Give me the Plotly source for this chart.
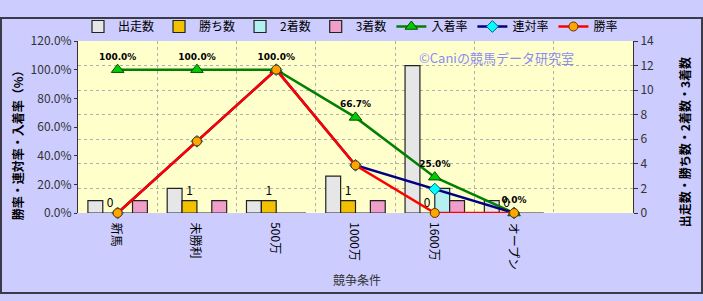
import plotly.graph_objects as go

categories = ["新馬", "未勝利", "500万", "1000万", "1600万", "オープン"]
starts = [1, 2, 1, 3, 12, 1]
wins = [0, 1, 1, 1, 0, 0]
seconds = [0, 0, 0, 0, 2, 0]
thirds = [1, 1, 0, 1, 1, 0]
place_rate = [1.0, 1.0, 1.0, 0.667, 0.25, 0.0]
quinella_rate = [0.0, 0.5, 1.0, 0.333, 0.167, 0.0]
win_rate = [0.0, 0.5, 1.0, 0.333, 0.0, 0.0]

FONT = "Noto Sans CJK JP"
xs = list(range(len(categories)))
n_slots = 7  # one empty slot at the right end

fig = go.Figure()

bar_specs = [
    ("出走数", starts, "#E6E6E6"),
    ("勝ち数", wins, "#F2C200"),
    ("2着数", seconds, "#B4F0F0"),
    ("3着数", thirds, "#F0A0C8"),
]
for name, vals, color in bar_specs:
    kw = {}
    if name == "勝ち数":
        kw = dict(text=[str(v) for v in vals], textposition="outside",
                  textfont=dict(size=12, color="#000", family=FONT),
                  cliponaxis=False)
    fig.add_trace(go.Bar(
        x=xs, y=vals, name=name, yaxis="y",
        marker=dict(color=color, line=dict(color="#222", width=1.2)),
        **kw))

fig.add_trace(go.Scatter(
    x=xs, y=place_rate, name="入着率", yaxis="y2",
    mode="lines+markers+text",
    line=dict(color="#008000", width=2.5),
    marker=dict(symbol="triangle-up", size=11, color="#00CC00",
                line=dict(color="#005000", width=1)),
    text=[f"<b>{v*100:.1f}%</b>" for v in place_rate],
    textposition="top center",
    textfont=dict(size=9, color="#000", family="DejaVu Sans"),
    cliponaxis=False))
fig.add_trace(go.Scatter(
    x=xs, y=quinella_rate, name="連対率", yaxis="y2",
    mode="lines+markers",
    line=dict(color="#000080", width=2.5),
    marker=dict(symbol="diamond", size=9, color="#00FFFF",
                line=dict(color="#006080", width=1)),
    cliponaxis=False))
fig.add_trace(go.Scatter(
    x=xs, y=win_rate, name="勝率", yaxis="y2",
    mode="lines+markers",
    line=dict(color="#FF0000", width=2.5),
    marker=dict(symbol="circle", size=9, color="#FFA500",
                line=dict(color="#603000", width=1)),
    cliponaxis=False))

W, H = 703, 301
L, R, T, B = 78, 70, 26, 88
pw, ph = W - L - R, H - T - B


def px_x(p):
    return (p - L) / pw


def px_y(p):
    return (H - B - p) / ph


# category labels (rotated, top-aligned just below the plot area)
cat_annotations = [
    dict(text=c, xref="x", yref="paper", x=i, y=px_y(221),
         xanchor="center", yanchor="top", textangle=90, showarrow=False,
         font=dict(size=12, color="#000", family=FONT))
    for i, c in enumerate(categories)
]

fig.update_layout(
    width=W, height=H,
    margin=dict(l=L, r=R, t=T, b=B),
    paper_bgcolor="#CCCCFF",
    plot_bgcolor="#FFFFCC",
    font=dict(family=FONT, size=12, color="#000"),
    barmode="group", bargap=0.25, bargroupgap=0,
    showlegend=True,
    legend=dict(orientation="h", x=0.0, xanchor="left", y=1.0, yanchor="bottom",
                bgcolor="rgba(0,0,0,0)", font=dict(size=12, color="#000"),
                itemwidth=30, tracegroupgap=0),
    xaxis=dict(
        range=[-0.5, n_slots - 0.5],
        tickmode="array", tickvals=xs, ticktext=categories,
        showticklabels=False, showgrid=False, zeroline=False, ticks="",
        minor=dict(tickvals=[i + 0.5 for i in range(n_slots - 1)],
                   showgrid=True, gridcolor="#B0B0B0", griddash="dot",
                   gridwidth=1, ticks=""),
    ),
    yaxis=dict(
        side="right", range=[0, 14], dtick=2,
        showgrid=True, gridcolor="#B0B0B0", griddash="dot", gridwidth=1,
        zeroline=False, showline=True, linecolor="#333", linewidth=1,
        ticks="outside", ticklen=4, tickcolor="#333",
        tickfont=dict(size=12, color="#333"),
    ),
    yaxis2=dict(
        overlaying="y", side="left", range=[0, 1.2], dtick=0.2,
        tickformat=".1%", showgrid=False, zeroline=False,
        showline=True, linecolor="#333", linewidth=1,
        ticks="outside", ticklen=3, tickcolor="#333",
        tickfont=dict(size=12, color="#333"),
    ),
    annotations=cat_annotations + [
        dict(text="<b>勝率・連対率・入着率（%）</b>", textangle=-90,
             xref="paper", yref="paper", x=px_x(17), y=px_y(136),
             xanchor="center", yanchor="middle",
             showarrow=False, font=dict(size=12, color="#000", family=FONT)),
        dict(text="<b>出走数・勝ち数・2着数・3着数</b>", textangle=-90,
             xref="paper", yref="paper", x=px_x(684), y=px_y(136),
             xanchor="center", yanchor="middle",
             showarrow=False, font=dict(size=12, color="#000", family=FONT)),
        dict(text="競争条件", xref="paper", yref="paper",
             x=px_x(357), y=px_y(285), xanchor="center", yanchor="middle",
             showarrow=False,
             font=dict(size=12, color="#333", family=FONT)),
        dict(text="©Caniの競馬データ研究室", xref="paper", yref="paper",
             x=px_x(496), y=px_y(44), xanchor="center", yanchor="middle",
             showarrow=False,
             font=dict(size=13, color="#8C8CF0", family=FONT)),
    ],
    shapes=[
        dict(type="rect", xref="paper", yref="paper",
             x0=px_x(1), x1=px_x(W - 1), y0=px_y(H - 1), y1=px_y(1),
             line=dict(color="#3A3A48", width=2), layer="above"),
    ],
)

fig.write_html("out.html")
